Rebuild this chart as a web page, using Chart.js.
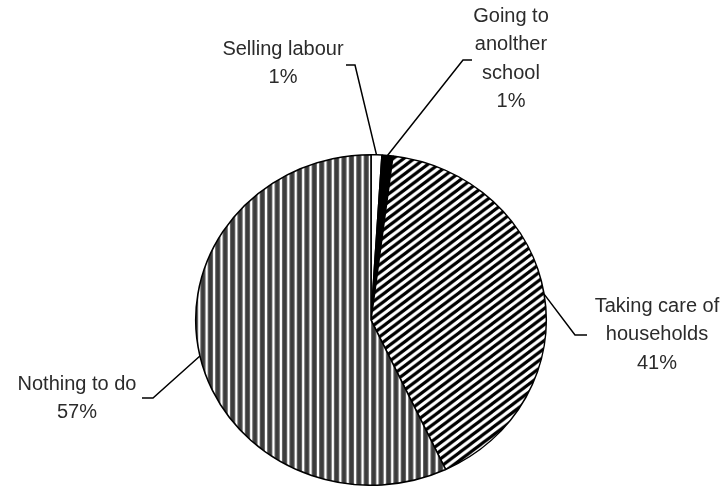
<!DOCTYPE html>
<html>
<head>
<meta charset="utf-8">
<script src="https://cdn.jsdelivr.net/npm/chart.js@4"></script>
<style>
    html, body { margin: 0; padding: 0; background: #fff; }
    #wrap { width: 726px; height: 486px; position: relative; }
</style>
</head>
<body>
<div id="wrap"><canvas id="pieChart"></canvas></div>
<script>
// categories (multi-line labels) and their shares in percent
const categories = [
    ['Selling labour'],
    ['Going to', 'anolther', 'school'],
    ['Taking care of', 'households'],
    ['Nothing to do']
];
const shares = [1, 1, 41, 57];

// label placement: text centre, first line middle, elbow of leader line, short tail end
const labelLayout = [
    { x: 283, y: 49, elbow: [355, 65], tail: [346, 65] },
    { x: 511, y: 16, elbow: [463, 60], tail: [472, 60] },
    { x: 657, y: 306, elbow: [575, 335], tail: [587, 335] },
    { x: 77, y: 384, elbow: [153, 398], tail: [142, 398] }
];
const LINE_H = 28.5;
const STRETCH_X = 175 / 165; // pie is drawn slightly wider than tall

// fill patterns
function makePattern(w, h, paint) {
    const c = document.createElement('canvas');
    c.width = w; c.height = h;
    const g = c.getContext('2d');
    paint(g, w, h);
    return g.createPattern(c, 'repeat');
}

const vertical = makePattern(7, 7, (g, w, h) => {
    g.fillStyle = '#fff';
    g.fillRect(0, 0, w, h);
    g.fillStyle = '#8a8a8a';
    g.fillRect(0, 0, 5, h);
    g.fillStyle = '#3c3c3c';
    g.fillRect(0.5, 0, 4, h);
});

const diagonal = makePattern(10, 8, (g, w, h) => {
    g.fillStyle = '#fff';
    g.fillRect(0, 0, w, h);
    g.strokeStyle = '#000';
    g.lineWidth = 3.2;
    for (let n = 0; n <= 2; n++) {
        // line x/w + y/h = n
        g.beginPath();
        g.moveTo(n * w + w, -h);
        g.lineTo(n * w - w * 2, h * 2);
        g.stroke();
    }
});

const fills = ['#ffffff', '#000000', diagonal, vertical];

// squash the pie into a slight ellipse
const ellipsePlugin = {
    id: 'ellipse',
    beforeDatasetsDraw(chart) {
        const arc = chart.getDatasetMeta(0).data[0];
        const ctx = chart.ctx;
        ctx.save();
        ctx.translate(arc.x, arc.y);
        ctx.scale(STRETCH_X, 1);
        ctx.translate(-arc.x, -arc.y);
    },
    afterDatasetsDraw(chart) {
        chart.ctx.restore();
    }
};

// outside labels with leader lines
const labelPlugin = {
    id: 'outsideLabels',
    afterDraw(chart) {
        const ctx = chart.ctx;
        const arcs = chart.getDatasetMeta(0).data;
        const total = shares.reduce((a, b) => a + b, 0);
        ctx.save();
        arcs.forEach((arc, i) => {
            const lay = labelLayout[i];
            const mid = (arc.startAngle + arc.endAngle) / 2;
            const px = arc.x + STRETCH_X * arc.outerRadius * Math.cos(mid);
            const py = arc.y + arc.outerRadius * Math.sin(mid);

            ctx.strokeStyle = '#000';
            ctx.lineWidth = 1.5;
            ctx.beginPath();
            ctx.moveTo(lay.tail[0], lay.tail[1]);
            ctx.lineTo(lay.elbow[0], lay.elbow[1]);
            ctx.lineTo(px, py);
            ctx.stroke();

            const lines = categories[i].concat([Math.round(shares[i] / total * 100) + '%']);
            ctx.fillStyle = '#2b2b2b';
            ctx.font = '20px "Liberation Sans", Arial, sans-serif';
            ctx.textAlign = 'center';
            ctx.textBaseline = 'middle';
            lines.forEach((t, k) => ctx.fillText(t, lay.x, lay.y + k * LINE_H));
        });
        ctx.restore();
    }
};

new Chart(document.getElementById('pieChart'), {
    type: 'pie',
    data: {
        labels: categories,
        datasets: [{
            data: shares,
            backgroundColor: fills,
            borderColor: '#000',
            borderWidth: 1.5
        }]
    },
    options: {
        responsive: true,
        maintainAspectRatio: false,
        animation: false,
        layout: { padding: { left: 205, right: 189, top: 154, bottom: 0 } },
        plugins: {
            legend: { display: false },
            tooltip: { enabled: false }
        }
    },
    plugins: [ellipsePlugin, labelPlugin]
});
</script>
</body>
</html>
